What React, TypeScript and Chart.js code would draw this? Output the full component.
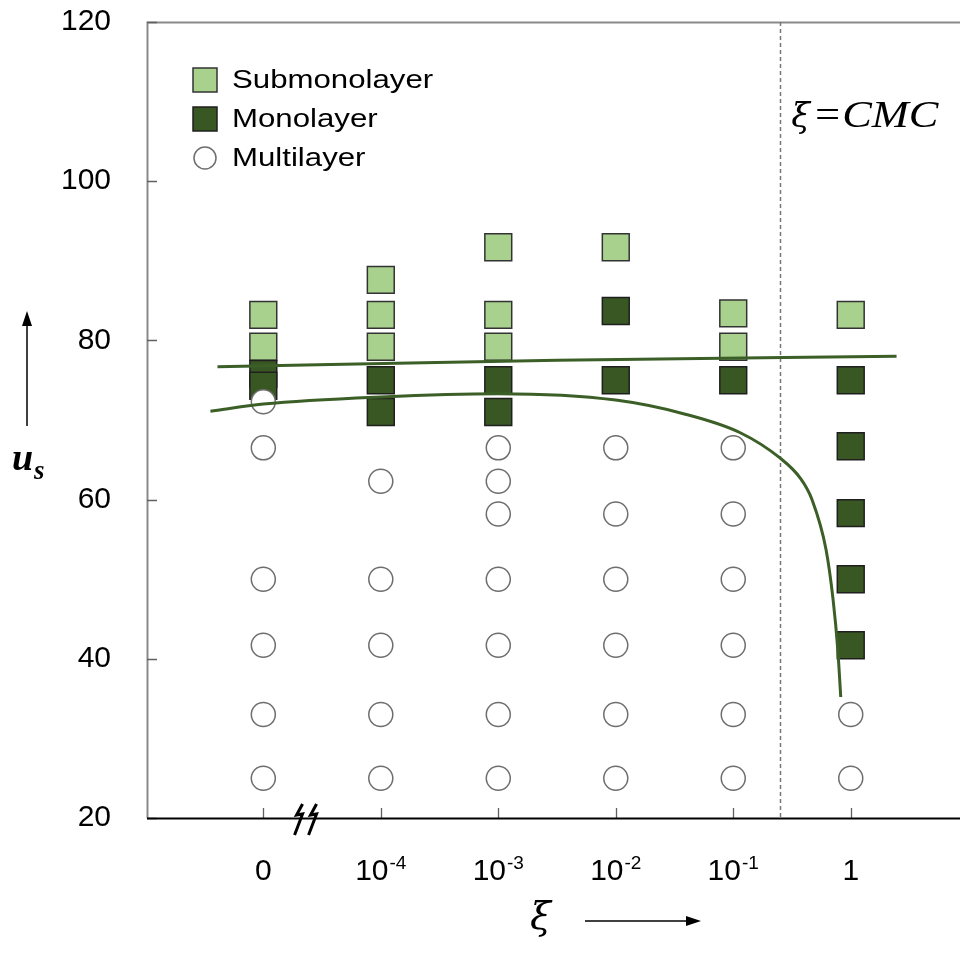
import React, { useEffect, useRef } from 'react';
import { Chart, registerables } from 'chart.js';

Chart.register(...registerables);

// Surfactant concentration categories along the horizontal axis (index 0..5)
const xTickBase = ['0', '10', '10', '10', '10', '1'];
const xTickExponent = ['', '-4', '-3', '-2', '-1', ''];
const yTickStep = 20;
const yMin = 20;
const yMax = 120;

// u_s values observed for each concentration column
const submonolayer: number[][] = [
  [83.2, 79.2],
  [87.6, 83.2, 79.2],
  [91.7, 83.2, 79.2],
  [91.7],
  [83.4, 79.2],
  [83.2],
];
const monolayer: number[][] = [
  [75.8, 74.3],
  [75.0, 71.0],
  [75.0, 71.0],
  [83.7, 75.0],
  [75.0],
  [75.0, 66.7, 58.3, 50.0, 41.7],
];
const multilayer: number[][] = [
  [72.3, 66.5, 50.0, 41.7, 33.0, 25.0],
  [62.3, 50.0, 41.7, 33.0, 25.0],
  [66.5, 62.3, 58.2, 50.0, 41.7, 33.0, 25.0],
  [66.5, 58.2, 50.0, 41.7, 33.0, 25.0],
  [66.5, 58.2, 50.0, 41.7, 33.0, 25.0],
  [33.0, 25.0],
];

// Phase boundaries as [column position, u_s]
const upperBoundary: [number, number][] = [
  [-0.39, 76.7],
  [2.5, 77.5],
  [5.39, 78.0],
];
const lowerBoundary: [number, number][] = [
  [-0.45, 71.1],
  [0, 72.0],
  [1, 72.9],
  [2, 73.3],
  [3, 72.5],
  [3.6, 70.7],
  [4.06, 68.4],
  [4.4, 65.2],
  [4.57, 62.7],
  [4.67, 60.0],
  [4.79, 53.7],
  [4.85, 47.4],
  [4.89, 41.1],
  [4.915, 35.2],
];

// Column position of the critical micelle concentration
const cmcPosition = 4.4;

const LIGHT = '#a9d18e';
const DARK = '#385723';
const LINE = '#3b5f27';
const SANS = "'Liberation Sans', Arial, sans-serif";
const SERIF = "'Liberation Serif', 'Times New Roman', serif";
const GREEK = "'DejaVu Serif', 'Liberation Serif', serif";

const toPoints = (cols: number[][]) =>
  cols.flatMap((vals, i) => vals.map((v) => ({ x: i, y: v })));
const toLine = (pts: [number, number][]) => pts.map(([x, y]) => ({ x, y }));

function stretchedText(
  ctx: CanvasRenderingContext2D,
  text: string,
  x: number,
  y: number,
  sx: number
) {
  ctx.save();
  ctx.translate(x, y);
  ctx.scale(sx, 1);
  ctx.fillText(text, 0, 0);
  ctx.restore();
}

function arrowHead(ctx: CanvasRenderingContext2D, tipX: number, tipY: number, dir: 'up' | 'right') {
  ctx.beginPath();
  if (dir === 'up') {
    ctx.moveTo(tipX, tipY);
    ctx.lineTo(tipX - 5, tipY + 15);
    ctx.lineTo(tipX + 5, tipY + 15);
  } else {
    ctx.moveTo(tipX, tipY);
    ctx.lineTo(tipX - 15, tipY - 5);
    ctx.lineTo(tipX - 15, tipY + 5);
  }
  ctx.closePath();
  ctx.fill();
}

const zeroPadding = (s: any) => {
  s.paddingTop = 0;
  s.paddingBottom = 0;
  s.paddingLeft = 0;
  s.paddingRight = 0;
};

const decorations = {
  id: 'decorations',
  beforeDatasetsDraw(chart: any) {
    const { ctx, chartArea: a, scales } = chart;
    const x = scales.x;
    const y = scales.y;
    ctx.save();
    // left and top frame
    ctx.strokeStyle = '#8a8a8a';
    ctx.lineWidth = 2;
    ctx.beginPath();
    ctx.moveTo(a.left + 0.5, a.bottom);
    ctx.lineTo(a.left + 0.5, a.top + 0.5);
    ctx.lineTo(a.right, a.top + 0.5);
    ctx.stroke();

    // inner tick marks
    ctx.strokeStyle = '#606060';
    ctx.lineWidth = 1.3;
    ctx.beginPath();
    y.ticks.forEach((t: any) => {
      const py = Math.round(y.getPixelForValue(t.value)) + 0.5;
      ctx.moveTo(a.left, py);
      ctx.lineTo(a.left + 10, py);
    });
    x.ticks.forEach((t: any) => {
      const px = Math.round(x.getPixelForValue(t.value)) + 0.5;
      ctx.moveTo(px, a.bottom);
      ctx.lineTo(px, a.bottom - 10);
    });
    ctx.stroke();

    // CMC marker line
    const cx = Math.round(x.getPixelForValue(cmcPosition)) + 0.5;
    ctx.setLineDash([4, 3]);
    ctx.strokeStyle = '#777777';
    ctx.lineWidth = 1.5;
    ctx.beginPath();
    ctx.moveTo(cx, a.top);
    ctx.lineTo(cx, a.bottom);
    ctx.stroke();
    ctx.setLineDash([]);

    // bottom axis
    ctx.strokeStyle = '#000';
    ctx.lineWidth = 2;
    ctx.beginPath();
    ctx.moveTo(a.left, a.bottom + 0.5);
    ctx.lineTo(a.right, a.bottom + 0.5);
    ctx.stroke();
    ctx.restore();
  },
  afterDraw(chart: any) {
    const { ctx, chartArea: a, scales } = chart;
    const x = scales.x;
    const ds = chart.data.datasets;
    ctx.save();

    // horizontal tick labels with raised exponents
    ctx.fillStyle = '#000';
    ctx.textBaseline = 'alphabetic';
    ctx.textAlign = 'left';
    x.ticks.forEach((t: any) => {
      const i = t.value;
      const base = xTickBase[i];
      const exp = xTickExponent[i];
      if (base === undefined) return;
      ctx.font = `30px ${SANS}`;
      const wb = ctx.measureText(base).width;
      ctx.font = `19px ${SANS}`;
      const we = exp ? ctx.measureText(exp).width + 1 : 0;
      const left = x.getPixelForValue(i) - (wb + we) / 2;
      ctx.font = `30px ${SANS}`;
      ctx.fillText(base, left, a.bottom + 62);
      if (exp) {
        ctx.font = `19px ${SANS}`;
        ctx.fillText(exp, left + wb + 1, a.bottom + 51);
      }
    });

    // axis break on the horizontal axis
    const bx = x.getPixelForValue(0.3);
    ctx.strokeStyle = '#000';
    ctx.lineWidth = 3;
    ctx.lineJoin = 'miter';
    [0, 14].forEach((dx) => {
      ctx.beginPath();
      ctx.moveTo(bx + dx + 4, a.bottom - 14);
      ctx.lineTo(bx + dx - 2, a.bottom - 3);
      ctx.lineTo(bx + dx + 4, a.bottom - 4);
      ctx.lineTo(bx + dx - 4, a.bottom + 17);
      ctx.stroke();
    });

    // legend
    const rows = [4, 3, 2];
    ctx.font = `26px ${SANS}`;
    ctx.textBaseline = 'middle';
    ctx.textAlign = 'left';
    rows.forEach((di, r) => {
      const d = ds[di];
      const cy = a.top + 58 + r * 39;
      const mx = a.left + 58;
      ctx.lineWidth = 1.5;
      ctx.fillStyle = d.backgroundColor;
      ctx.strokeStyle = d.borderColor;
      if (d.pointStyle === 'rect') {
        ctx.fillRect(mx - 12, cy - 12, 24, 24);
        ctx.strokeRect(mx - 12, cy - 12, 24, 24);
      } else {
        ctx.beginPath();
        ctx.arc(mx, cy, 11, 0, Math.PI * 2);
        ctx.fill();
        ctx.stroke();
      }
      ctx.fillStyle = '#000';
      stretchedText(ctx, d.label, a.left + 85, cy + 1, 1.2);
    });

    // CMC label
    const cx = x.getPixelForValue(cmcPosition);
    ctx.fillStyle = '#000';
    ctx.textBaseline = 'alphabetic';
    ctx.font = `italic 34px ${GREEK}`;
    ctx.fillText('ξ', cx + 11, a.top + 105);
    ctx.font = `italic 37px ${SERIF}`;
    stretchedText(ctx, '=CMC', cx + 32, a.top + 105, 1.2);

    // vertical axis title with arrow
    ctx.strokeStyle = '#000';
    ctx.fillStyle = '#000';
    ctx.lineWidth = 1.5;
    const ax = a.left - 120;
    ctx.beginPath();
    ctx.moveTo(ax, a.top + 404);
    ctx.lineTo(ax, a.top + 300);
    ctx.stroke();
    arrowHead(ctx, ax, a.top + 289, 'up');
    ctx.font = `bold italic 38px ${SERIF}`;
    ctx.fillText('u', ax - 15, a.top + 448);
    ctx.font = `bold italic 27px ${SERIF}`;
    ctx.fillText('s', ax + 7, a.top + 457);

    // horizontal axis title with arrow
    const baseY = chart.height - 33;
    ctx.font = `italic 38px ${GREEK}`;
    ctx.fillText('ξ', 530, baseY + 8);
    ctx.beginPath();
    ctx.moveTo(585, baseY);
    ctx.lineTo(690, baseY);
    ctx.stroke();
    arrowHead(ctx, 701, baseY, 'right');

    ctx.restore();
  },
};

export default function App() {
  const ref = useRef<HTMLCanvasElement | null>(null);

  useEffect(() => {
    if (!ref.current) return;
    const squareRadius = 19;
    const chart = new Chart(ref.current, {
      type: 'scatter',
      data: {
        datasets: [
          {
            label: 'upper boundary',
            data: toLine(upperBoundary),
            showLine: true,
            borderColor: LINE,
            borderWidth: 3,
            pointRadius: 0,
            cubicInterpolationMode: 'monotone',
          },
          {
            label: 'lower boundary',
            data: toLine(lowerBoundary),
            showLine: true,
            borderColor: LINE,
            borderWidth: 3,
            pointRadius: 0,
            cubicInterpolationMode: 'monotone',
          },
          {
            label: 'Multilayer',
            data: toPoints(multilayer),
            pointStyle: 'circle',
            pointRadius: 12,
            backgroundColor: '#ffffff',
            borderColor: '#6e6e6e',
            borderWidth: 1.5,
          },
          {
            label: 'Monolayer',
            data: toPoints(monolayer),
            pointStyle: 'rect',
            pointRadius: squareRadius,
            backgroundColor: DARK,
            borderColor: '#1f1f1f',
            borderWidth: 1.5,
          },
          {
            label: 'Submonolayer',
            data: toPoints(submonolayer),
            pointStyle: 'rect',
            pointRadius: squareRadius,
            backgroundColor: LIGHT,
            borderColor: '#333333',
            borderWidth: 1.5,
          },
        ],
      } as any,
      options: {
        animation: false,
        responsive: false,
        devicePixelRatio: 1,
        layout: { autoPadding: false, padding: { top: 22, right: 0, left: 0, bottom: 0 } },
        plugins: {
          legend: { display: false },
          tooltip: { enabled: false },
        },
        scales: {
          x: {
            type: 'linear',
            min: -0.99,
            max: 5.93,
            afterBuildTicks: (s: any) => {
              s.ticks = xTickBase.map((_, i) => ({ value: i }));
            },
            afterFit: (s: any) => {
              s.height = 136;
              zeroPadding(s);
            },
            ticks: { display: false, autoSkip: false },
            grid: { display: false, drawTicks: false },
            border: { display: false },
          },
          y: {
            min: yMin,
            max: yMax,
            afterFit: (s: any) => {
              s.width = 147;
              zeroPadding(s);
            },
            ticks: {
              stepSize: yTickStep,
              color: '#000',
              padding: 36,
              font: { family: SANS, size: 30 },
            },
            grid: { display: false, drawTicks: false },
            border: { display: false },
          },
        },
      } as any,
      plugins: [decorations],
    });
    return () => chart.destroy();
  }, []);

  return (
    <div style={{ position: 'fixed', left: 0, top: 0, width: 960, height: 954, background: '#fff' }}>
      <canvas ref={ref} width={960} height={954} style={{ display: 'block' }} />
    </div>
  );
}
